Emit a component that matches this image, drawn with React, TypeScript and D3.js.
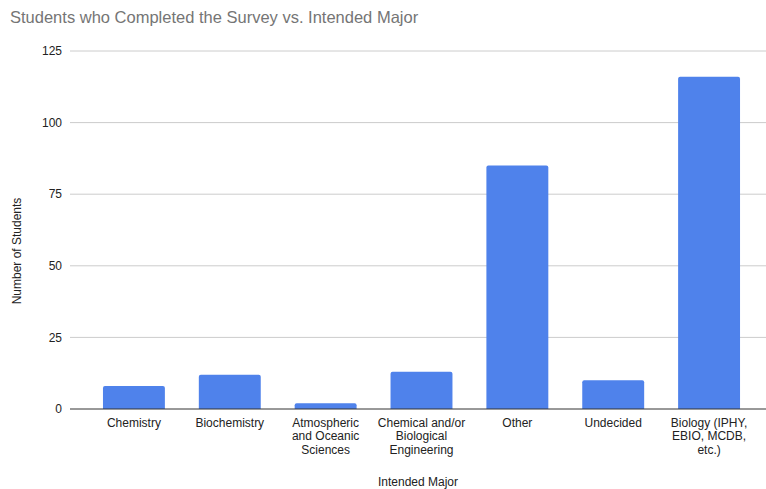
import React, { useEffect, useRef } from "react";
import * as d3 from "d3";

const categories: string[][] = [
  ["Chemistry"],
  ["Biochemistry"],
  ["Atmospheric", "and Oceanic", "Sciences"],
  ["Chemical and/or", "Biological", "Engineering"],
  ["Other"],
  ["Undecided"],
  ["Biology (IPHY,", "EBIO, MCDB,", "etc.)"],
];
const students: number[] = [8, 12, 2, 13, 85, 10, 116];
const yTicks: number[] = [0, 25, 50, 75, 100, 125];

const W = 766;
const H = 489;
const FONT = "Arial, 'Liberation Sans', Helvetica, sans-serif";

export default function App() {
  const ref = useRef<SVGSVGElement | null>(null);

  useEffect(() => {
    const svg = d3.select(ref.current);
    svg.selectAll("*").remove();

    const keys = categories.map((c) => c.join(" "));
    const x = d3
      .scaleBand<string>()
      .domain(keys)
      .range([86, 757])
      .paddingInner(0.354)
      .paddingOuter(0.177);
    const y = d3.scaleLinear().domain([0, 125]).range([409, 51]);

    svg
      .append("text")
      .attr("x", 10)
      .attr("y", 23)
      .attr("font-family", FONT)
      .attr("font-size", 16.5)
      .attr("fill", "#757575")
      .text("Students who Completed the Survey vs. Intended Major");

    // gridlines
    svg
      .append("g")
      .selectAll("line")
      .data(yTicks.filter((t) => t !== 0))
      .join("line")
      .attr("x1", 70)
      .attr("x2", 766)
      .attr("y1", (d) => y(d))
      .attr("y2", (d) => y(d))
      .attr("stroke", "#cccccc")
      .attr("stroke-width", 1);

    // y tick labels
    svg
      .append("g")
      .selectAll("text")
      .data(yTicks)
      .join("text")
      .attr("x", 62)
      .attr("y", (d) => y(d))
      .attr("dy", "0.35em")
      .attr("text-anchor", "end")
      .attr("font-family", FONT)
      .attr("font-size", 12)
      .attr("fill", "#222")
      .text((d) => String(d));

    // bars
    svg
      .append("g")
      .selectAll("path")
      .data(students)
      .join("path")
      .attr("d", (d, i) => {
        const x0 = x(keys[i])!;
        const w = x.bandwidth();
        const top = y(d);
        const bot = y(0);
        const r = Math.min(2, (bot - top) / 2);
        return `M${x0},${bot}V${top + r}Q${x0},${top} ${x0 + r},${top}H${x0 + w - r}Q${x0 + w},${top} ${x0 + w},${top + r}V${bot}Z`;
      })
      .attr("fill", "#4f82eb");

    // baseline
    svg
      .append("line")
      .attr("x1", 70)
      .attr("x2", 766)
      .attr("y1", y(0))
      .attr("y2", y(0))
      .attr("stroke", "#333")
      .attr("stroke-width", 1);

    // category labels
    const lab = svg
      .append("g")
      .selectAll("text")
      .data(categories)
      .join("text")
      .attr("x", (_, i) => x(keys[i])! + x.bandwidth() / 2)
      .attr("y", 427)
      .attr("text-anchor", "middle")
      .attr("font-family", FONT)
      .attr("font-size", 12)
      .attr("fill", "#222");
    lab
      .selectAll("tspan")
      .data((d) => d)
      .join("tspan")
      .attr("x", function () {
        return (this.parentNode as SVGTextElement).getAttribute("x");
      })
      .attr("dy", (_, j) => (j === 0 ? 0 : 13.3))
      .text((d) => d);

    // axis titles
    svg
      .append("text")
      .attr("x", 418)
      .attr("y", 486)
      .attr("text-anchor", "middle")
      .attr("font-family", FONT)
      .attr("font-size", 12)
      .attr("fill", "#222")
      .text("Intended Major");

    svg
      .append("text")
      .attr("transform", "translate(21,251) rotate(-90)")
      .attr("text-anchor", "middle")
      .attr("font-family", FONT)
      .attr("font-size", 12)
      .attr("fill", "#222")
      .text("Number of Students");
  }, []);

  return (
    <svg
      ref={ref}
      width={W}
      height={H}
      style={{ position: "absolute", left: 0, top: 0, background: "#fff" }}
    />
  );
}
